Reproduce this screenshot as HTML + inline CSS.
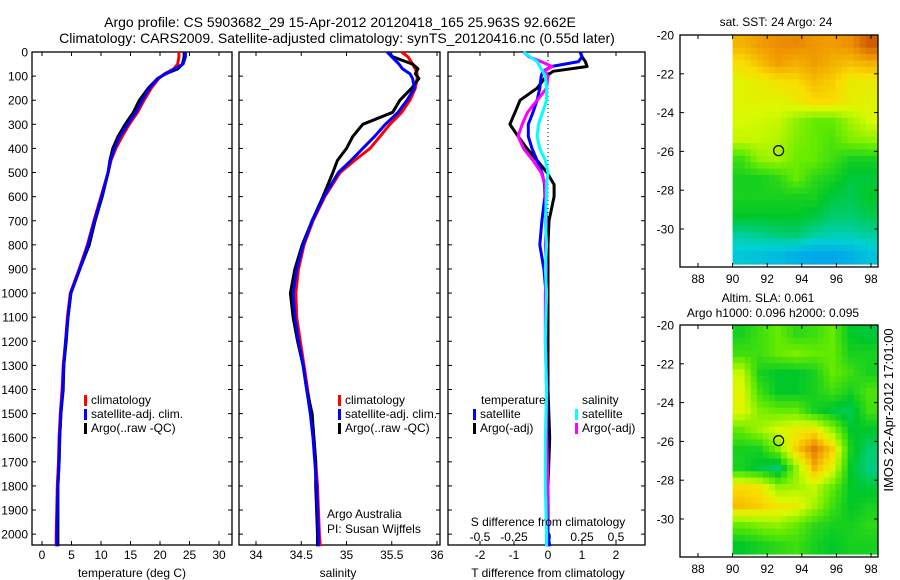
<!DOCTYPE html>
<html><head><meta charset="utf-8">
<style>
html,body{margin:0;padding:0;background:#fff;}
svg{display:block;font-family:"Liberation Sans",sans-serif;}
text{fill:#000;}
</style></head>
<body>
<svg id="fig" width="900" height="580" viewBox="0 0 900 580" xmlns="http://www.w3.org/2000/svg">
<rect width="900" height="580" fill="#fff"/>
<text x="340" y="27" font-size="14" text-anchor="middle">Argo profile: CS 5903682_29 15-Apr-2012 20120418_165 25.963S 92.662E</text>
<text x="337" y="43" font-size="14" text-anchor="middle">Climatology: CARS2009. Satellite-adjusted climatology: synTS_20120416.nc (0.55d later)</text>
<g id="g1"></g>
<g id="g2"></g>
<g id="g3"></g>
<g id="m1"></g>
<g id="m2"></g>
<text transform="translate(893,410) rotate(-90)" font-size="13" text-anchor="middle">IMOS 22-Apr-2012 17:01:00</text>
</svg>
<script>
// ---- data ----
const depths = [0,20,50,70,90,110,150,200,250,300,350,400,450,500,600,700,800,900,1000,1100,1200,1300,1400,1500,1600,1700,1800,1900,2000,2050];
const tempClim = [23.2,23.2,23.0,22.3,20.8,19.8,18.5,17.3,16.2,14.8,13.6,12.5,11.7,11.2,10.0,8.8,7.7,6.3,4.8,4.3,4.0,3.6,3.4,3.1,2.9,2.8,2.6,2.5,2.4,2.4];
const tempSat = [24.3,24.3,23.9,22.5,21.0,19.6,18.2,17.0,15.9,14.5,13.2,12.3,11.6,11.2,10.1,8.9,7.8,6.4,4.9,4.4,4.0,3.7,3.5,3.2,3.0,2.9,2.7,2.6,2.5,2.5];
const tempArgo = [24.1,24.1,23.8,23.0,21.0,19.6,18.0,16.5,15.5,14.1,12.9,12.0,11.5,11.2,10.2,9.0,8.0,6.4,4.9,4.4,4.1,3.7,3.6,3.2,3.0,2.9,2.7,2.7,2.7,2.7];
const salClim = [35.61,35.68,35.73,35.76,35.78,35.78,35.76,35.70,35.61,35.48,35.37,35.26,35.09,34.93,34.76,34.63,34.53,34.47,34.44,34.45,34.49,34.53,34.57,34.61,34.64,34.66,34.68,34.69,34.70,34.71];
const salSat = [35.45,35.50,35.58,35.62,35.70,35.73,35.75,35.67,35.57,35.43,35.31,35.18,35.05,34.91,34.75,34.62,34.52,34.45,34.41,34.43,34.47,34.52,34.56,34.60,34.63,34.65,34.67,34.68,34.69,34.69];
const salArgo = [35.45,35.51,35.73,35.79,35.76,35.80,35.72,35.59,35.51,35.18,35.07,35.00,34.90,34.85,34.74,34.62,34.51,34.43,34.38,34.41,34.46,34.52,34.56,34.62,34.64,34.66,34.66,34.67,34.68,34.68];
const diffDepths = [0,20,40,60,80,100,150,200,250,300,350,400,450,500,550,600,700,800,900,1000,1200,1400,1600,1800,2000,2050];
const dTsat = [0.94,1.0,0.9,0.1,-0.15,-0.2,-0.24,-0.32,-0.44,-0.58,-0.58,-0.47,-0.32,-0.18,-0.1,-0.09,-0.18,-0.24,-0.12,-0.06,-0.06,-0.03,-0.03,0,0,0.05];
const dTargo = [0.95,1.0,1.1,1.15,0.15,-0.05,-0.32,-0.82,-0.97,-1.12,-0.88,-0.62,-0.32,-0.03,0.18,0.18,0.03,0,0,0,0,0,0.05,0,0,0];
const dSargo = [-0.18,-0.14,-0.05,0.03,-0.03,0.0,-0.01,-0.08,-0.15,-0.19,-0.22,-0.18,-0.11,-0.05,-0.02,-0.02,-0.01,-0.02,-0.01,-0.02,-0.02,-0.01,-0.01,0,-0.01,-0.01];
const dSsat = [-0.18,-0.13,-0.08,-0.06,-0.04,-0.02,-0.01,-0.01,-0.04,-0.07,-0.08,-0.06,-0.02,0,-0.01,-0.01,-0.02,-0.01,-0.02,-0.01,-0.02,-0.01,-0.02,-0.02,-0.01,-0.01];
const depthTicks = [0,100,200,300,400,500,600,700,800,900,1000,1100,1200,1300,1400,1500,1600,1700,1800,1900,2000];
const tempTicks = [0,5,10,15,20,25,30];
const salTicks = [34,34.5,35,35.5,36];
const tdiffTicks = [-2,-1,0,1,2];
const sdiffTicks = [-0.5,-0.25,0,0.25,0.5];
const lonTicks = [88,90,92,94,96,98];
const latTicks = [-20,-22,-24,-26,-28,-30];
const sstGrid = [
[0.82,0.85,0.87,0.88,0.86,0.85,0.87,0.95],
[0.75,0.80,0.85,0.82,0.85,0.82,0.80,0.82],
[0.70,0.72,0.74,0.76,0.80,0.78,0.72,0.72],
[0.70,0.70,0.70,0.72,0.76,0.76,0.72,0.70],
[0.68,0.67,0.66,0.60,0.55,0.55,0.62,0.68],
[0.66,0.66,0.64,0.58,0.55,0.52,0.58,0.60],
[0.50,0.60,0.62,0.56,0.55,0.50,0.45,0.45],
[0.45,0.45,0.48,0.55,0.48,0.45,0.40,0.40],
[0.45,0.45,0.45,0.45,0.45,0.40,0.38,0.42],
[0.42,0.42,0.42,0.42,0.40,0.35,0.35,0.38],
[0.30,0.32,0.34,0.35,0.30,0.28,0.28,0.30],
[0.22,0.20,0.18,0.15,0.12,0.12,0.15,0.20]];
const slaGrid = [
[0.45,0.50,0.55,0.48,0.50,0.55,0.42,0.40],
[0.50,0.50,0.55,0.58,0.55,0.55,0.45,0.45],
[0.66,0.45,0.42,0.42,0.45,0.55,0.50,0.45],
[0.70,0.50,0.42,0.42,0.45,0.50,0.45,0.52],
[0.70,0.58,0.55,0.55,0.45,0.40,0.38,0.50],
[0.55,0.62,0.68,0.72,0.74,0.60,0.42,0.42],
[0.45,0.45,0.58,0.78,0.90,0.78,0.45,0.35],
[0.45,0.40,0.35,0.60,0.82,0.70,0.42,0.33],
[0.76,0.74,0.60,0.62,0.66,0.55,0.42,0.40],
[0.80,0.78,0.74,0.72,0.62,0.50,0.42,0.45],
[0.55,0.58,0.60,0.55,0.48,0.45,0.45,0.48],
[0.42,0.45,0.48,0.50,0.45,0.42,0.45,0.45]];
const floatLon = 92.66, floatLat = -25.96;

// ---- helpers ----
const NS = "http://www.w3.org/2000/svg";
function mk(parent, tag, attrs, txt){
  const e = document.createElementNS(NS, tag);
  for (const k in attrs) e.setAttribute(k, attrs[k]);
  if (txt !== undefined) e.textContent = txt;
  parent.appendChild(e); return e;
}
const yTop = 52, yBot = 545, dMax = 2045;
const yD = d => yTop + d/dMax*(yBot-yTop);

function frame(g, x0, x1, name){
  const r = mk(g,'rect',{x:x0,y:yTop,width:x1-x0,height:yBot-yTop,fill:'none',stroke:'#000','stroke-width':1.3});
  
  
}
function xTicks(g, ticks, xf, labY, fmt, name){
  ticks.forEach(t=>{
    const x = xf(t);
    mk(g,'line',{x1:x,x2:x,y1:yBot,y2:yBot-4,stroke:'#000'});
    mk(g,'line',{x1:x,x2:x,y1:yTop,y2:yTop+4,stroke:'#000'});
    const tx = mk(g,'text',{x:x,y:labY,'font-size':12,'text-anchor':'middle'}, fmt(t));
    
    
  });
}
function yTicks(g, x0, x1, labels){
  depthTicks.forEach(d=>{
    const y = yD(d);
    mk(g,'line',{x1:x0,x2:x0+4,y1:y,y2:y,stroke:'#000'});
    mk(g,'line',{x1:x1,x2:x1-4,y1:y,y2:y,stroke:'#000'});
    if (labels){
      const tx = mk(g,'text',{x:x0-4,y:y+4.5,'font-size':12,'text-anchor':'end'}, d);
      
      
    }
  });
}
function line(g, ds, vs, xf, color, name, w){
  const pts = ds.map((d,i)=> xf(vs[i]).toFixed(1)+','+yD(d).toFixed(1)).join(' ');
  const p = mk(g,'polyline',{points:pts,fill:'none',stroke:color,'stroke-width':w||3,'stroke-linejoin':'round'});
  
  
}
function legend(g, x, y, color, label, name){
  mk(g,'rect',{x:x,y:y-9,width:3,height:11,fill:color});
  const t = mk(g,'text',{x:x+7,y:y,'font-size':12}, label);
  
  
}

// ---- panel 1 temperature ----
const g1 = document.getElementById('g1');
const xT = t => 42 + t*5.9;
frame(g1, 32, 232, 'temperature-axes');
yTicks(g1, 32, 232, true);
xTicks(g1, tempTicks, xT, 559, t=>t, 'temperature-tick-label');
line(g1, depths, tempClim, xT, '#ff0000', 'temp-climatology-line');
line(g1, depths, tempArgo, xT, '#000000', 'temp-argo-line');
line(g1, depths, tempSat, xT, '#0000ff', 'temp-satellite-line');
legend(g1, 84, 404, '#ff0000', 'climatology', 'legend-climatology');
legend(g1, 84, 418, '#0000ff', 'satellite-adj. clim.', 'legend-satellite');
legend(g1, 84, 432, '#000000', 'Argo(..raw -QC)', 'legend-argo');
let t1 = mk(g1,'text',{x:132,y:577,'font-size':12,'text-anchor':'middle'},'temperature (deg C)');



// ---- panel 2 salinity ----
const g2 = document.getElementById('g2');
const xS = s => 256 + (s-34)*90.5;
frame(g2, 239, 440, 'salinity-axes');
yTicks(g2, 239, 440, false);
xTicks(g2, salTicks, xS, 559, t=>t, 'salinity-tick-label');
line(g2, depths, salClim, xS, '#ff0000', 'sal-climatology-line');
line(g2, depths, salArgo, xS, '#000000', 'sal-argo-line');
line(g2, depths, salSat, xS, '#0000ff', 'sal-satellite-line');
legend(g2, 338, 404, '#ff0000', 'climatology', 'legend-climatology');
legend(g2, 338, 418, '#0000ff', 'satellite-adj. clim.', 'legend-satellite');
legend(g2, 338, 432, '#000000', 'Argo(..raw -QC)', 'legend-argo');
let t2 = mk(g2,'text',{x:327,y:518,'font-size':12},'Argo Australia');


let t3 = mk(g2,'text',{x:327,y:533,'font-size':12},'PI: Susan Wijffels');


let t4 = mk(g2,'text',{x:338,y:577,'font-size':12,'text-anchor':'middle'},'salinity');



// ---- panel 3 differences ----
const g3 = document.getElementById('g3');
const xdT = v => 548 + v*34;
const xdS = v => 548 + v*136;
frame(g3, 448, 645, 'difference-axes');
yTicks(g3, 448, 645, false);
xTicks(g3, tdiffTicks, xdT, 559, t=>t, 't-diff-tick-label');
mk(g3,'line',{x1:548,x2:548,y1:yTop,y2:yBot,stroke:'#000','stroke-dasharray':'1,3'});
sdiffTicks.forEach(t=>{
  const tx = mk(g3,'text',{x:xdS(t),y:541,'font-size':12,'text-anchor':'middle'}, t);
  
  
});
line(g3, diffDepths, dTargo, xdT, '#000000', 'tdiff-argo-line');
line(g3, diffDepths, dTsat, xdT, '#0000ff', 'tdiff-satellite-line');
line(g3, diffDepths, dSargo, xdS, '#ff00ff', 'sdiff-argo-line');
line(g3, diffDepths, dSsat, xdS, '#00ffff', 'sdiff-satellite-line');
let t5 = mk(g3,'text',{x:481,y:404,'font-size':12},'temperature');


let t6 = mk(g3,'text',{x:582,y:404,'font-size':12},'salinity');


legend(g3, 473, 418, '#0000ff', 'satellite', 'legend-t-satellite');
legend(g3, 473, 432, '#000000', 'Argo(-adj)', 'legend-t-argo');
legend(g3, 575, 418, '#00ffff', 'satellite', 'legend-s-satellite');
legend(g3, 575, 432, '#ff00ff', 'Argo(-adj)', 'legend-s-argo');
let t7 = mk(g3,'text',{x:548,y:526,'font-size':12,'text-anchor':'middle'},'S difference from climatology');


let t8 = mk(g3,'text',{x:548,y:577,'font-size':12,'text-anchor':'middle'},'T difference from climatology');



// ---- maps ----
function cmap(v){
  const stops = [[0,[0,128,255]],[0.25,[0,210,210]],[0.42,[0,200,40]],[0.55,[100,235,0]],[0.68,[215,250,0]],[0.76,[250,220,0]],[0.86,[240,150,0]],[1,[190,60,0]]];
  for (let i=1;i<stops.length;i++){
    if (v<=stops[i][0]){
      const a=stops[i-1], b=stops[i], f=(v-a[0])/(b[0]-a[0]);
      return 'rgb('+a[1].map((c,k)=>Math.round(c+(b[1][k]-c)*f)).join(',')+')';
    }
  }
  return 'rgb(190,60,0)';
}
function sample(grid, fr, fc){
  const nr=grid.length, nc=grid[0].length;
  fr=Math.max(0,Math.min(nr-1,fr)); fc=Math.max(0,Math.min(nc-1,fc));
  const r0=Math.floor(fr), c0=Math.floor(fc), r1=Math.min(nr-1,r0+1), c1=Math.min(nc-1,c0+1);
  const a=fr-r0, b=fc-c0;
  return grid[r0][c0]*(1-a)*(1-b)+grid[r0][c1]*(1-a)*b+grid[r1][c0]*a*(1-b)+grid[r1][c1]*a*b;
}
function map(id, top, grid, titles, cellName){
  const g = document.getElementById(id);
  const x0=680, x1=878, h=232;
  const xL = lon => 698 + (lon-88)*17.3;
  const yL = lat => top + (-20-lat)*19.4;
  const nr = grid.length, nc = grid[0].length;
  const lonMin=90, lonMax=98.4, latMax=-20, latMin=-31.8;
  const cw=(lonMax-lonMin)/nc, ch=(latMax-latMin)/nr;
  const sub=3;
  for (let r=0;r<nr*sub;r++) for (let c=0;c<nc*sub;c++){
    const fr=(r+0.5)/sub-0.5, fc=(c+0.5)/sub-0.5;
    const v=sample(grid, fr, fc);
    const xa=xL(lonMin+c*cw/sub), xb=xL(lonMin+(c+1)*cw/sub);
    const ya=yL(latMax-r*ch/sub), yb=yL(latMax-(r+1)*ch/sub);
    const rc = mk(g,'rect',{x:xa.toFixed(1),y:ya.toFixed(1),width:(xb-xa+0.6).toFixed(1),height:(yb-ya+0.6).toFixed(1),fill:cmap(v)});
    
    
  }
  mk(g,'rect',{x:x1,y:top,width:4,height:h,fill:'#fff'});
  const fr = mk(g,'rect',{x:x0,y:top,width:x1-x0,height:h,fill:'none',stroke:'#000','stroke-width':1.3});
  
  
  lonTicks.forEach(t=>{
    const x=xL(t);
    mk(g,'line',{x1:x,x2:x,y1:top+h,y2:top+h-4,stroke:'#000'});
    mk(g,'line',{x1:x,x2:x,y1:top,y2:top+4,stroke:'#000'});
    const tx = mk(g,'text',{x:x,y:top+h+16,'font-size':12,'text-anchor':'middle'},t);
    
    
  });
  latTicks.forEach(t=>{
    const y=yL(t);
    mk(g,'line',{x1:x0,x2:x0+4,y1:y,y2:y,stroke:'#000'});
    mk(g,'line',{x1:x1,x2:x1-4,y1:y,y2:y,stroke:'#000'});
    const tx = mk(g,'text',{x:x0-6,y:y+4.5,'font-size':12,'text-anchor':'end'},t);
    
    
  });
  const c = mk(g,'circle',{cx:xL(floatLon),cy:yL(floatLat),r:5,fill:'none',stroke:'#000','stroke-width':1.2});
  
  
  titles.forEach(tt=>{
    const tx = mk(g,'text',{x:tt[1],y:tt[2],'font-size':12,'text-anchor':'middle'},tt[0]);
    
    
  });
}
map('m1', 35, sstGrid, [['sat. SST: 24 Argo: 24',776,26]], 'sst-cell');
map('m2', 325, slaGrid, [['Altim. SLA: 0.061',768,302],['Argo h1000: 0.096 h2000: 0.095',773,317]], 'sla-cell');
</script>
</body></html>
